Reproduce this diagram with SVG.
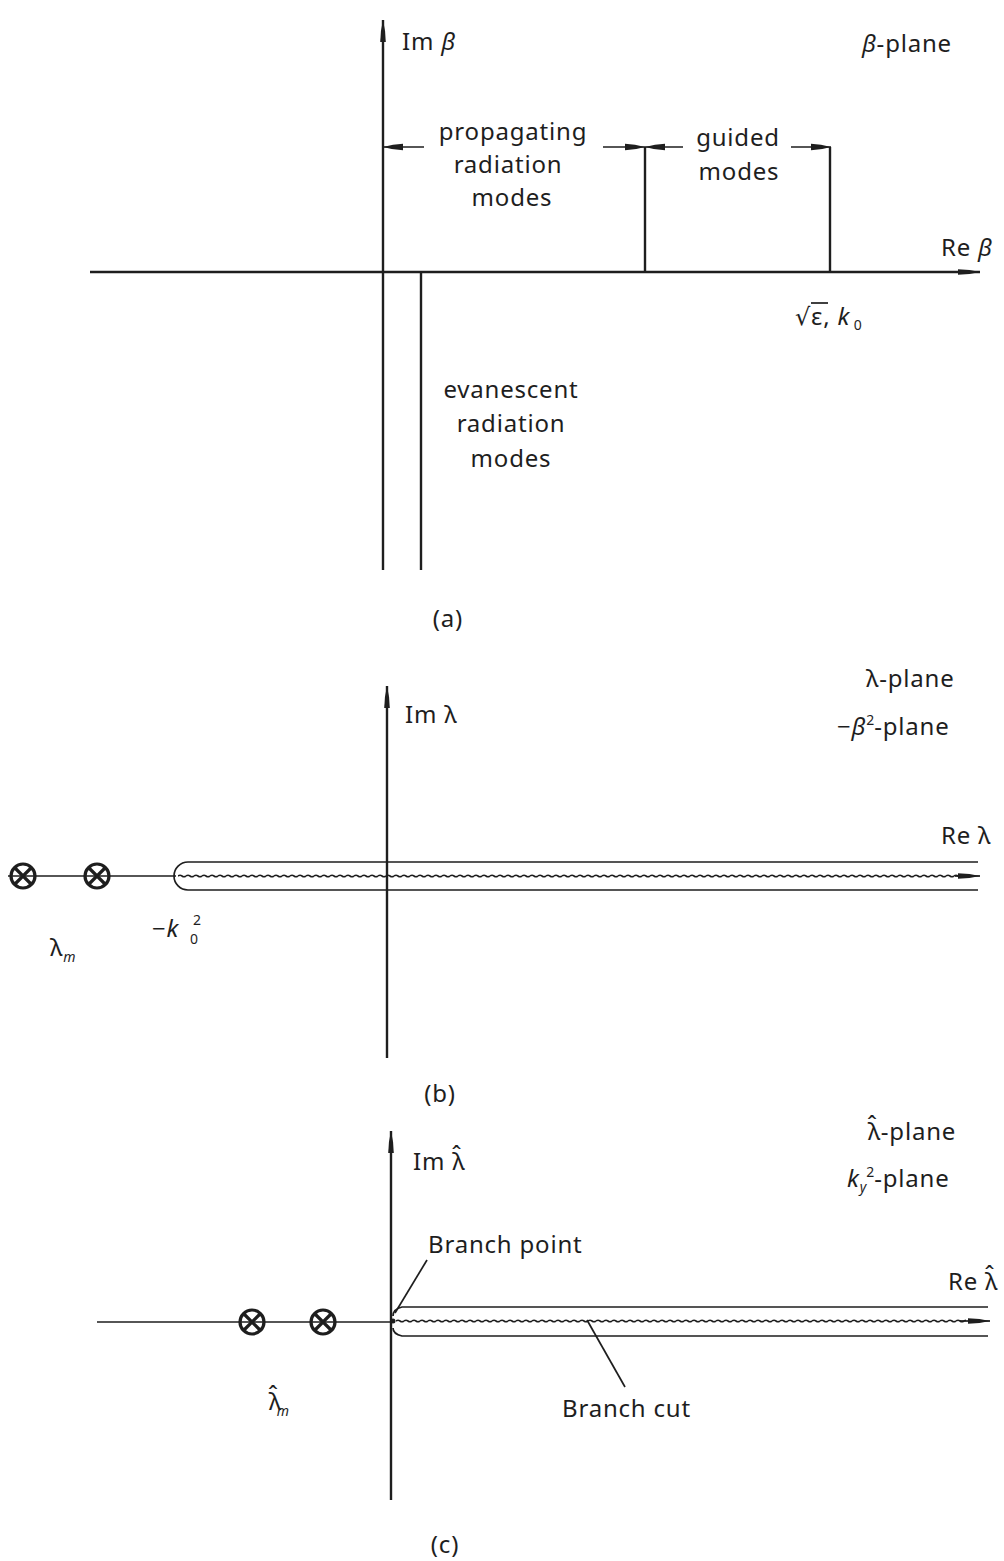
<svg xmlns="http://www.w3.org/2000/svg" width="1004" height="1561" viewBox="0 0 1004 1561">
<style>
.ax{stroke:#1e1e1e;stroke-width:2.4;fill:none}
.ln{stroke:#1e1e1e;stroke-width:1.7;fill:none}
.t{font-family:"Noto Sans","DejaVu Sans",sans-serif;font-size:24px;letter-spacing:0.8px;fill:#1e1e1e}
.c{text-anchor:middle}
.i{font-style:italic}
.s{font-size:14px;letter-spacing:0}
.pole{stroke:#1e1e1e;stroke-width:3.2;fill:none}
</style>
<defs>
<marker id="ah" markerUnits="userSpaceOnUse" markerWidth="26" markerHeight="10" refX="22" refY="4" orient="auto">
<path d="M0,1.2 Q12,1.5 22,4 Q12,6.5 0,6.8 z" fill="#1e1e1e"/>
</marker>
<marker id="dh" markerUnits="userSpaceOnUse" markerWidth="22" markerHeight="10" refX="20" refY="4" orient="auto">
<path d="M0,0.8 Q10,1 20,4 Q10,7 0,7.2 z" fill="#1e1e1e"/>
</marker>
<pattern id="wave" patternUnits="userSpaceOnUse" width="8" height="6">
<path d="M0,3 Q2,1.5 4,3 T8,3" stroke="#1e1e1e" stroke-width="1.6" fill="none"/>
</pattern>
<g id="pole-sym">
<circle cx="0" cy="0" r="12" class="pole"/>
<path d="M-8,-8 L8,8 M-8,8 L8,-8" class="pole" stroke-width="2.6"/>
</g>
</defs>

<!-- Panel (a) -->
<g id="panel-a-axes">
<line x1="383" y1="570" x2="383" y2="20" class="ax" marker-end="url(#ah)"/>
<line x1="90" y1="272" x2="980" y2="272" class="ax" marker-end="url(#ah)"/>
<line x1="421" y1="272" x2="421" y2="570" class="ax"/>
<line x1="645" y1="147" x2="645" y2="272" class="ax"/>
<line x1="830" y1="147" x2="830" y2="272" class="ax"/>
</g>
<g id="connectors">
<line x1="424" y1="147" x2="383" y2="147" class="ln" marker-end="url(#dh)"/>
<line x1="603" y1="147" x2="645" y2="147" class="ln" marker-end="url(#dh)"/>
<line x1="683" y1="147" x2="645" y2="147" class="ln" marker-end="url(#dh)"/>
<line x1="791" y1="147" x2="831" y2="147" class="ln" marker-end="url(#dh)"/>
<line x1="427" y1="1260" x2="395" y2="1313" class="ln"/>
<line x1="587" y1="1320" x2="625" y2="1387" class="ln"/>
</g>
<g id="panel-a-labels">
<text x="402" y="50" class="t">Im <tspan class="i">β</tspan></text>
<text x="862" y="52" class="t"><tspan class="i">β</tspan>-plane</text>
<text x="513" y="140" class="t c">propagating</text>
<text x="508" y="173" class="t c">radiation</text>
<text x="512" y="206" class="t c">modes</text>
<text x="738" y="146" class="t c">guided</text>
<text x="739" y="180" class="t c">modes</text>
<text x="941" y="256" class="t">Re <tspan class="i">β</tspan></text>
<text x="795" y="325" class="t">√ε, <tspan class="i">k</tspan><tspan class="s" dy="5"> 0</tspan></text>
<line x1="811" y1="303" x2="828" y2="303" class="ln"/>
<text x="511" y="398" class="t c">evanescent</text>
<text x="511" y="432" class="t c">radiation</text>
<text x="511" y="467" class="t c">modes</text>
<text x="448" y="627" class="t c">(a)</text>
</g>

<!-- Panel (b) -->
<g id="panel-b-axes">
<line x1="387" y1="1058" x2="387" y2="686" class="ax" marker-end="url(#ah)"/>
<line x1="8" y1="876" x2="176" y2="876" class="ln"/>
<path d="M978,862 L188,862 A14,14 0 0 0 188,890 L978,890" class="ln"/>
<g transform="translate(178,873)"><rect x="0" y="0" width="785" height="6" fill="url(#wave)"/></g>
<line x1="955" y1="876" x2="980" y2="876" class="ln" marker-end="url(#ah)"/>
</g>
<g id="pole-b1"><use href="#pole-sym" x="23" y="876"/></g>
<g id="pole-b2"><use href="#pole-sym" x="97" y="876"/></g>
<g id="panel-b-labels">
<text x="405" y="723" class="t">Im λ</text>
<text x="866" y="687" class="t">λ-plane</text>
<text x="837" y="735" class="t">−<tspan class="i">β</tspan><tspan class="s" dy="-10">2</tspan><tspan dy="10">-plane</tspan></text>
<text x="941" y="844" class="t">Re λ</text>
<text x="152" y="937" class="t">−<tspan class="i">k</tspan></text>
<text x="190" y="944" class="t s">0</text>
<text x="193" y="925" class="t s">2</text>
<text x="50" y="956" class="t">λ<tspan class="s i" dy="6">m</tspan></text>
<text x="440" y="1102" class="t c">(b)</text>
</g>

<!-- Panel (c) -->
<g id="panel-c-axes">
<line x1="391" y1="1500" x2="391" y2="1131" class="ax" marker-end="url(#ah)"/>
<line x1="97" y1="1322" x2="393" y2="1322" class="ln"/>
<path d="M988,1307 L402,1307 Q393,1309 393,1316" class="ln"/>
<path d="M988,1336 L402,1336 Q393,1334 393,1328" class="ln"/>
<g transform="translate(396,1318)"><rect x="0" y="0" width="570" height="6" fill="url(#wave)"/></g>
<line x1="960" y1="1321" x2="990" y2="1321" class="ln" marker-end="url(#ah)"/>
<circle cx="393" cy="1321" r="2.5" fill="#1e1e1e"/>
</g>
<g id="pole-c1"><use href="#pole-sym" x="252" y="1322"/></g>
<g id="pole-c2"><use href="#pole-sym" x="323" y="1322"/></g>
<g id="panel-c-labels">
<text x="413" y="1170" class="t">Im λ<tspan dx="-14" dy="-7">ˆ</tspan></text>
<text x="867" y="1140" class="t">λ<tspan dx="-14" dy="-7">ˆ</tspan><tspan dx="3" dy="7">-plane</tspan></text>
<text x="847" y="1187" class="t"><tspan class="i">k</tspan><tspan class="s i" dy="5">y</tspan><tspan class="s" dy="-15">2</tspan><tspan dy="10">-plane</tspan></text>
<text x="948" y="1290" class="t">Re λ<tspan dx="-14" dy="-7">ˆ</tspan></text>
<text x="428" y="1253" class="t">Branch point</text>
<text x="562" y="1417" class="t">Branch cut</text>
<text x="268" y="1410" class="t">λ<tspan dx="-14" dy="-7">ˆ</tspan><tspan class="s i" dx="-2" dy="13">m</tspan></text>
<text x="445" y="1553" class="t c">(c)</text>
</g>
</svg>
